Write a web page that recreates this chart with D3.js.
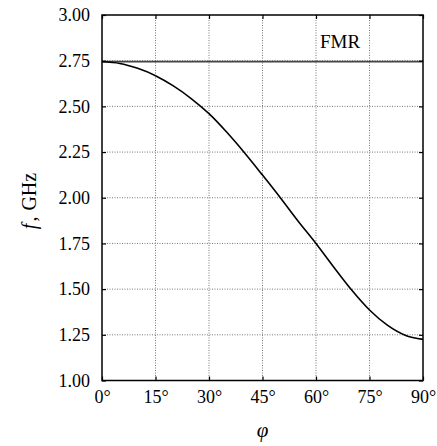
<!DOCTYPE html>
<html><head><meta charset="utf-8">
<script src="https://cdn.jsdelivr.net/npm/d3@7"></script>
<style>body{margin:0;background:#fff}svg{display:block}</style>
</head><body>
<svg id="c" width="437" height="446"></svg>
<script>
const phiDeg = [0,5,10,15,20,25,30,35,40,45,50,55,60,65,70,75,80,85,90];
const freq   = [2.744,2.735,2.708,2.668,2.612,2.543,2.460,2.358,2.245,2.124,2.000,1.872,1.750,1.620,1.495,1.386,1.303,1.248,1.225];
const fmr = 2.745;
const xTicks = [0,15,30,45,60,75,90];
const yTicks = [1.00,1.25,1.50,1.75,2.00,2.25,2.50,2.75,3.00];

const svg = d3.select("#c");
const m = {l:102, r:423, t:15, b:380.5};
const x = d3.scaleLinear().domain([0,90]).range([m.l,m.r]);
const y = d3.scaleLinear().domain([1,3]).range([m.b,m.t]);
const font = "'Liberation Serif', 'DejaVu Serif', serif";

// grid
const g = svg.append("g");
g.selectAll("line.gx").data(xTicks.slice(1,-1)).enter().append("line")
 .attr("x1",d=>x(d)).attr("x2",d=>x(d)).attr("y1",m.t).attr("y2",m.b)
 .attr("stroke","#777").attr("stroke-width",1).attr("stroke-dasharray","1,1.5");
g.selectAll("line.gy").data(yTicks.slice(1,-1)).enter().append("line")
 .attr("y1",d=>y(d)).attr("y2",d=>y(d)).attr("x1",m.l).attr("x2",m.r)
 .attr("stroke","#777").attr("stroke-width",1).attr("stroke-dasharray","1,1.5");

// FMR line
svg.append("line").attr("x1",m.l).attr("x2",m.r).attr("y1",y(fmr)).attr("y2",y(fmr))
 .attr("stroke","#444").attr("stroke-width",1.6);
svg.append("text").attr("x",340).attr("y",48).attr("text-anchor","middle")
 .attr("font-family",font).attr("font-size",19).text("FMR");

// curve
svg.append("path").datum(phiDeg.map((p,i)=>[p,freq[i]]))
 .attr("d",d3.line().x(d=>x(d[0])).y(d=>y(d[1])).curve(d3.curveMonotoneX))
 .attr("fill","none").attr("stroke","#000").attr("stroke-width",1.6);

// axes
const tl = 4;
const ax = svg.append("g").attr("transform",`translate(0,${m.b})`)
 .call(d3.axisBottom(x).tickValues(xTicks).tickSize(-tl).tickPadding(10).tickFormat(d=>d+"°"));
const axT = svg.append("g").attr("transform",`translate(0,${m.t})`)
 .call(d3.axisTop(x).tickValues(xTicks).tickSize(-tl).tickFormat(""));
const ay = svg.append("g").attr("transform",`translate(${m.l},0)`)
 .call(d3.axisLeft(y).tickValues(yTicks).tickSize(-tl).tickPadding(12).tickFormat(d3.format(".2f")));
const ayR = svg.append("g").attr("transform",`translate(${m.r},0)`)
 .call(d3.axisRight(y).tickValues(yTicks).tickSize(-tl).tickFormat(""));
[ax,axT,ay,ayR].forEach(a=>{
  a.select(".domain").remove();
  a.selectAll(".tick line").attr("stroke","#000").attr("stroke-width",1.2);
  a.selectAll("text").attr("font-family",font).attr("font-size",18).attr("fill","#000");
});
ax.selectAll("text").attr("dy","0.71em");

// frame
svg.append("rect").attr("x",m.l).attr("y",m.t).attr("width",m.r-m.l).attr("height",m.b-m.t)
 .attr("fill","none").attr("stroke","#000").attr("stroke-width",1.5);

// axis labels
svg.append("text").attr("x",(m.l+m.r)/2).attr("y",437).attr("text-anchor","middle")
 .attr("font-family",font).attr("font-size",21).attr("font-style","italic").text("φ");
const yl = svg.append("text").attr("transform",`translate(36,201) rotate(-90)`).attr("text-anchor","middle")
 .attr("font-family",font).attr("font-size",20);
yl.append("tspan").attr("font-style","italic").text("f");
yl.append("tspan").attr("dx",2).text(",");
yl.append("tspan").attr("dx",6).text("GHz");
</script>
</body></html>
